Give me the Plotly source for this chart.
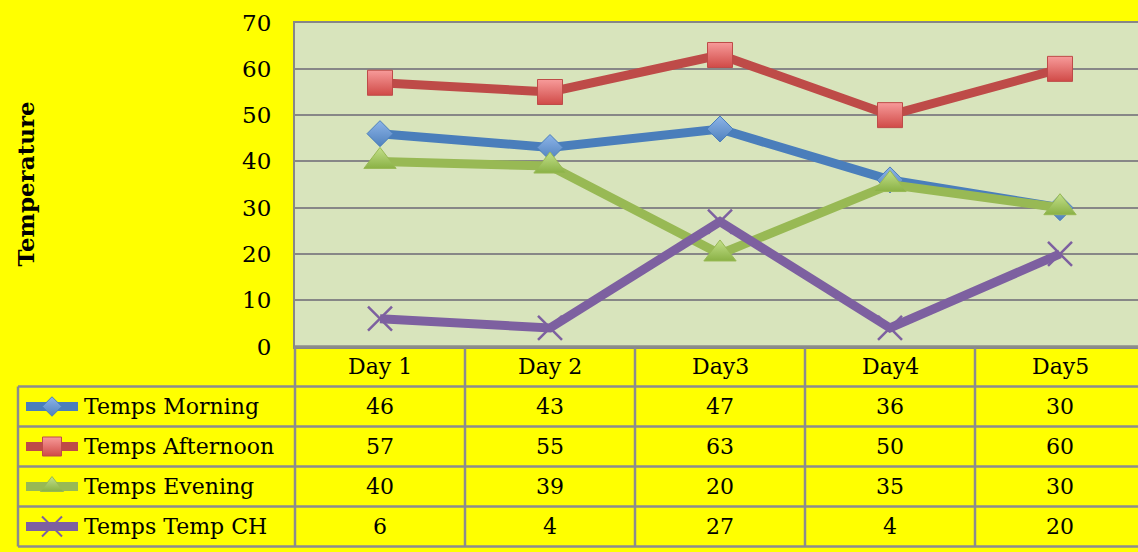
import plotly.graph_objects as go

# ---- data ----
days = ["Day 1", "Day 2", "Day3", "Day4", "Day5"]
series_names = ["Temps Morning", "Temps Afternoon", "Temps Evening", "Temps Temp CH"]
morning = [46, 43, 47, 36, 30]
afternoon = [57, 55, 63, 50, 60]
evening = [40, 39, 20, 35, 30]
temp_ch = [6, 4, 27, 4, 20]
y_ticks = [0, 10, 20, 30, 40, 50, 60, 70]

series_values = [morning, afternoon, evening, temp_ch]
line_colors = ["#4A7EBB", "#BE4B48", "#98B954", "#7D60A0"]
marker_fill = ["#8DB4E8", "#F79B9A", "#C3E08A", "#7D60A0"]
marker_grad = ["#4F81BD", "#D04A47", "#8AB145", "#7D60A0"]
symbols = ["diamond", "square", "triangle-up", "x-thin"]
sizes = [20, 25, 28, 24]
key_sizes = [15, 19, 20, 20]

W, H = 1138, 552
FONT = "DejaVu Serif"
GRID = "#878787"
TBL = "#8C8C8C"

# layout geometry (pixels)
plot_left, plot_top, plot_bottom = 295, 22.6, 346.5
col_w = 170
first_center = 380
row_h = 40
header_top = plot_bottom
leg_left = 18

fig = go.Figure()

x_idx = list(range(len(days)))
for i, (name, vals) in enumerate(zip(series_names, series_values)):
    if symbols[i] == "x-thin":
        mk = dict(symbol="x-thin", size=sizes[i], color=line_colors[i],
                  line=dict(color=line_colors[i], width=2.5))
    else:
        mk = dict(symbol=symbols[i], size=sizes[i], color=marker_fill[i],
                  line=dict(color=line_colors[i], width=1),
                  gradient=dict(type="vertical", color=marker_grad[i]))
    fig.add_trace(go.Scatter(
        x=x_idx, y=vals, mode="lines+markers", name=name,
        line=dict(color=line_colors[i], width=9),
        marker=mk, xaxis="x", yaxis="y", showlegend=False,
        cliponaxis=False))

row_centers = [header_top + row_h * (k + 1.5) for k in range(len(series_names))]
for i, name in enumerate(series_names):
    yc = row_centers[i]
    fig.add_trace(go.Scatter(
        x=[26, 78], y=[yc, yc], mode="lines",
        line=dict(color=line_colors[i], width=9),
        xaxis="x2", yaxis="y2", showlegend=False, hoverinfo="skip"))
    if symbols[i] == "x-thin":
        mk = dict(symbol="x-thin", size=key_sizes[i], color=line_colors[i],
                  line=dict(color=line_colors[i], width=2))
    else:
        mk = dict(symbol=symbols[i], size=key_sizes[i], color=marker_fill[i],
                  line=dict(color=line_colors[i], width=1),
                  gradient=dict(type="vertical", color=marker_grad[i]))
    fig.add_trace(go.Scatter(
        x=[52], y=[yc], mode="markers", marker=mk,
        xaxis="x2", yaxis="y2", showlegend=False, hoverinfo="skip"))

shapes = []
# plot background (paper ref so it sits under every subplot)
shapes.append(dict(type="rect", xref="paper", yref="paper", x0=plot_left / W, x1=1.01,
                   y0=(H - plot_bottom) / H, y1=(H - plot_top) / H,
                   fillcolor="#D8E4BC", line=dict(width=0), layer="below"))
right = W + 10
tbl_bottom = header_top + row_h * (len(series_names) + 1)
shapes.append(dict(type="line", xref="x2", yref="y2", x0=plot_left, x1=right,
                   y0=header_top, y1=header_top, line=dict(color=TBL, width=2.5)))
for k in range(1, len(series_names) + 2):
    yy = header_top + row_h * k
    shapes.append(dict(type="line", xref="x2", yref="y2", x0=leg_left, x1=right,
                       y0=yy, y1=yy, line=dict(color=TBL, width=2.5)))
shapes.append(dict(type="line", xref="x2", yref="y2", x0=leg_left, x1=leg_left,
                   y0=header_top + row_h, y1=tbl_bottom, line=dict(color=TBL, width=2.5)))
for c in range(len(days) + 1):
    xx = plot_left + col_w * c
    shapes.append(dict(type="line", xref="x2", yref="y2", x0=xx, x1=xx,
                       y0=header_top, y1=tbl_bottom, line=dict(color=TBL, width=2.5)))

annotations = []
for c, d in enumerate(days):
    annotations.append(dict(x=first_center + col_w * c, y=header_top + row_h / 2,
                            xref="x2", yref="y2", text=d, showarrow=False,
                            font=dict(family=FONT, size=22, color="black"),
                            xanchor="center", yanchor="middle"))
for i, name in enumerate(series_names):
    annotations.append(dict(x=82, y=row_centers[i], xref="x2", yref="y2",
                            text=name, showarrow=False,
                            font=dict(family=FONT, size=22, color="black"),
                            xanchor="left", yanchor="middle"))
    for c, v in enumerate(series_values[i]):
        annotations.append(dict(x=first_center + col_w * c, y=row_centers[i],
                                xref="x2", yref="y2", text=str(v), showarrow=False,
                                font=dict(family=FONT, size=22, color="black"),
                                xanchor="center", yanchor="middle"))
annotations.append(dict(x=26, y=(plot_top + plot_bottom) / 2, xref="x2", yref="y2",
                        text="<b>Temperature</b>", textangle=-90, showarrow=False,
                        font=dict(family=FONT, size=23, color="black"),
                        xanchor="center", yanchor="middle"))

x_lo = -0.5
x_hi = (W - first_center) / col_w

fig.update_layout(
    width=W, height=H,
    margin=dict(l=0, r=0, t=0, b=0, pad=0),
    paper_bgcolor="#FFFF00",
    plot_bgcolor="rgba(0,0,0,0)",
    xaxis=dict(domain=[plot_left / W, 1], range=[x_lo, x_hi],
               showticklabels=False, showgrid=False, zeroline=False,
               showline=True, mirror=True, linecolor=GRID, linewidth=2,
               fixedrange=True),
    yaxis=dict(domain=[(H - plot_bottom) / H, (H - plot_top) / H], range=[0, 70],
               tickvals=y_ticks, showgrid=True, gridcolor=GRID, gridwidth=2,
               zeroline=False, showline=True, linecolor=GRID, linewidth=2,
               ticks="outside", ticklen=17, tickcolor="rgba(0,0,0,0)",
               tickfont=dict(family=FONT, size=23, color="black"),
               automargin=False, fixedrange=True),
    xaxis2=dict(domain=[0, 1], range=[0, W], visible=False, fixedrange=True),
    yaxis2=dict(domain=[0, 1], range=[H, 0], visible=False, fixedrange=True),
    shapes=shapes,
    annotations=annotations,
    showlegend=False,
)

fig.write_html("out.html", config={"displayModeBar": False},
               post_script="document.body.style.margin='0px';document.body.style.overflow='hidden';")
